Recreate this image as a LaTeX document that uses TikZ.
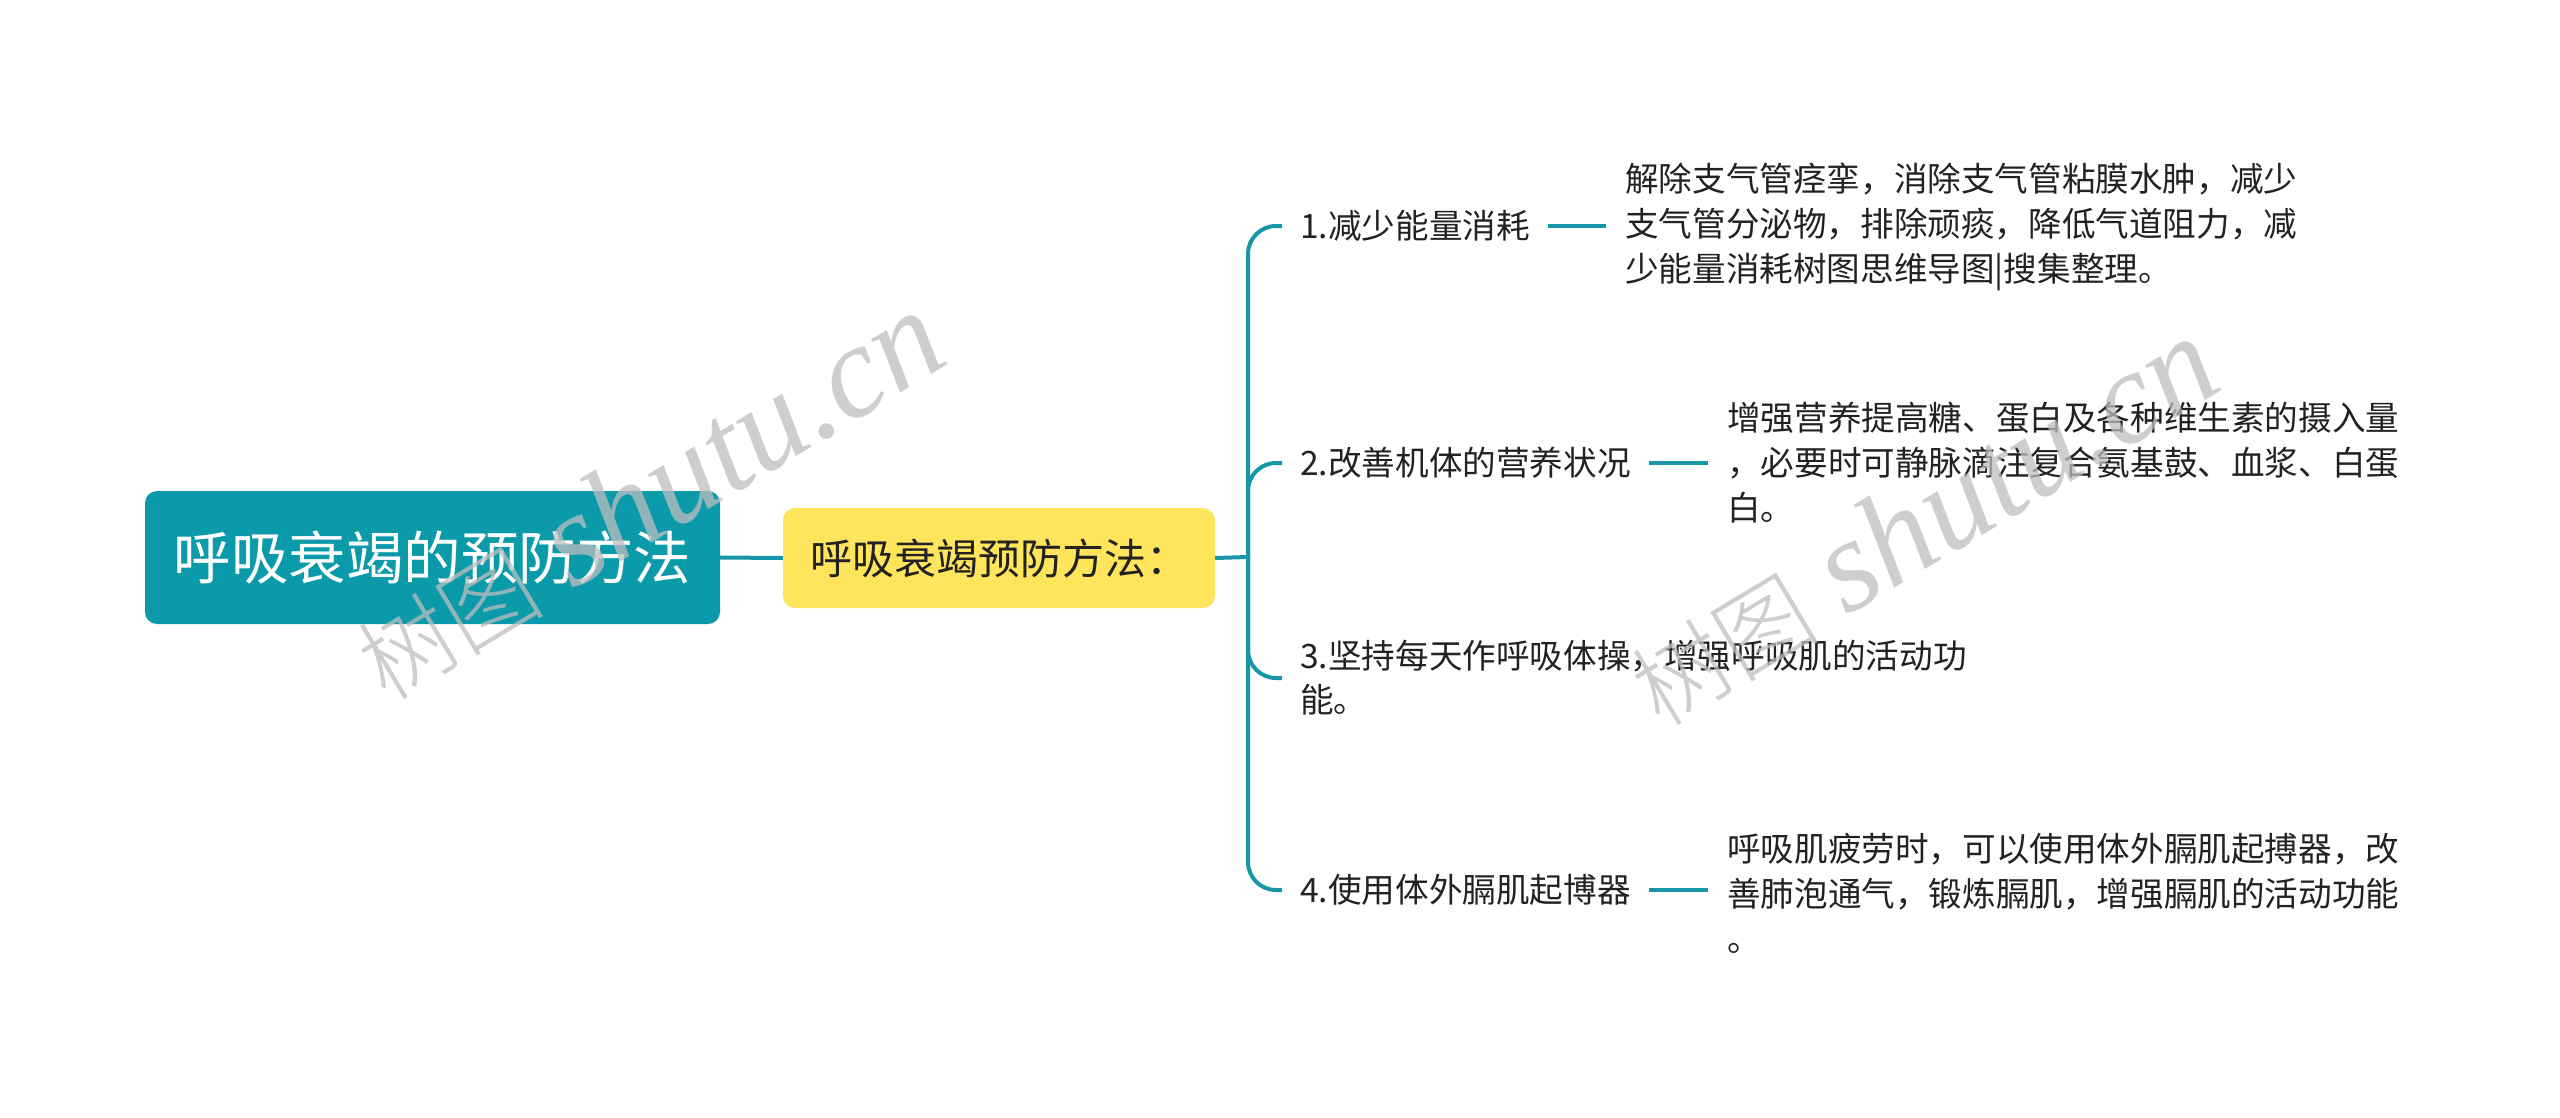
\documentclass[tikz,border=0pt]{standalone}
\usepackage{fontspec}
\setmainfont{Noto Sans CJK SC}
\newfontfamily\wmserif{Liberation Serif}
\newfontfamily\wmcjk{Noto Sans CJK SC Light}
\definecolor{teal1}{HTML}{0A9AAA}
\definecolor{line1}{HTML}{1797A6}
\definecolor{yel}{HTML}{FFE55C}
\definecolor{txt}{HTML}{222222}
\definecolor{wmgray}{HTML}{BEBEBE}
\begin{document}
\begin{tikzpicture}[x=1pt,y=-1pt,
 rootbox/.style={fill=teal1, rounded corners=12pt, minimum width=575pt, minimum height=133pt, inner sep=0pt, text=white, font=\fontsize{57.5}{60}\selectfont},
 subbox/.style={fill=yel, rounded corners=12pt, minimum width=432pt, minimum height=100pt, inner sep=0pt, text=txt, font=\fontsize{42}{44}\selectfont},
 branch/.style={anchor=west, inner xsep=18pt, inner ysep=0pt, text=txt, align=left, font=\fontsize{33.6}{44}\selectfont},
 desc/.style={anchor=west, inner xsep=19pt, inner ysep=0pt, text=txt, align=left, font=\fontsize{33.6}{45}\selectfont},
 link/.style={draw=line1, line width=4pt},
 dashlink/.style={draw=line1, line width=4.5pt},
 wm/.style={text=wmgray, text opacity=0.75, rotate=31, inner sep=0pt, font=\fontsize{132}{136}\selectfont}
]
\useasboundingbox (0,0) rectangle (2560,1117);
\fill[white] (0,0) rectangle (2560,1117);

\node[rootbox] (root) at (432.5,557.5) {呼吸衰竭的预防方法};
\node[subbox] (sub) at (999,558) {呼吸衰竭预防方法：};

\coordinate (j) at (1248,557);

\node[branch] (b1) at (1282,226) {1.减少能量消耗};
\node[branch] (b2) at (1282,463) {2.改善机体的营养状况};
\node[branch] (b3) at (1282,678) {3.坚持每天作呼吸体操，增强呼吸肌的活动功\\能。};
\node[branch] (b4) at (1282,890) {4.使用体外膈肌起博器};

\node[desc] (d1) at (1606,227) {解除支气管痉挛，消除支气管粘膜水肿，减少\\支气管分泌物，排除顽痰，降低气道阻力，减\\少能量消耗树图思维导图|搜集整理。};
\node[desc] (d2) at (1708,463) {增强营养提高糖、蛋白及各种维生素的摄入量\\，必要时可静脉滴注复合氨基鼓、血浆、白蛋\\白。};
\node[desc] (d4) at (1708,893) {呼吸肌疲劳时，可以使用体外膈肌起搏器，改\\善肺泡通气，锻炼膈肌，增强膈肌的活动功能\\。};

\draw[link] (root.east) -- (sub.west);
\draw[link] (sub.east) -- (j);
\foreach \b in {b1,b2,b3,b4}{
  \draw[link, rounded corners=28pt] (j) |- (\b.west);
}
\draw[dashlink] (b1.east) -- (d1.west |- b1.east);
\draw[dashlink] (b2.east) -- (d2.west |- b2.east);
\draw[dashlink] (b4.east) -- (d4.west |- b4.east);

% watermarks (drawn on top)
\node[wm] (w1) at (648,496) {{\wmcjk\fontsize{94}{100}\selectfont 树图} {\wmserif\itshape shutu.cn}};
\node[wm] (w2) at (1922,522) {{\wmcjk\fontsize{94}{100}\selectfont 树图} {\wmserif\itshape shutu.cn}};
\end{tikzpicture}
\end{document}
